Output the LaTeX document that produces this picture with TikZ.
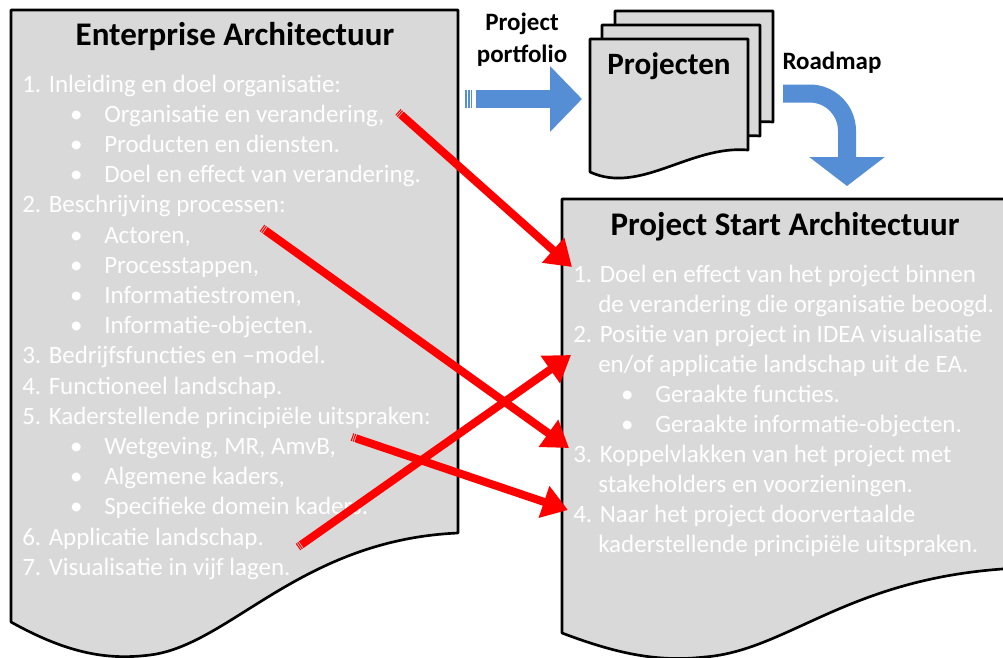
\documentclass[tikz,border=0pt]{standalone}
\usepackage{fontspec}
\setmainfont{Carlito}
\usetikzlibrary{arrows.meta}
\definecolor{docgray}{HTML}{D9D9D9}
\definecolor{flowblue}{HTML}{558ED5}
\newcommand{\itembullet}{\llap{\makebox[10pt]{\textcolor{white}{\char"2022}}\hspace{16pt}}}

\begin{document}
\begin{tikzpicture}[x=0.75pt, y=-0.75pt]
    % Define styles
    \tikzset{
        docshape/.style={draw=black, fill=docgray, line width=2pt, line join=round},
        doctitle/.style={anchor=base, inner sep=0pt, font=\fontsize{24.75pt}{30pt}\selectfont\bfseries},
        listline/.style={anchor=base west, inner sep=0pt, text=white, font=\fontsize{18.75pt}{22pt}\selectfont},
        flowlabel/.style={anchor=base, inner sep=0pt, font=\fontsize{18.75pt}{22pt}\selectfont\bfseries},
        blueflow/.style={draw=flowblue, line width=13.5pt},
        linkarrow/.style={draw=red, line width=6pt, -{Triangle[width=24pt, length=19pt]}, dash pattern=on 0.8pt off 0.7pt on 0.8pt off 0.7pt on 400pt}
    }
    \useasboundingbox (0,0) rectangle (1003,657);
    \clip (0,0) rectangle (1003,657);

    % Enterprise Architectuur document
    \draw[docshape] (11,10) -- (458,10) -- (458,533) .. controls (300,540) and (230,645) .. (150,655) .. controls (110,660) and (70,655) .. (11,622) -- cycle;
    \node[doctitle] (eatitle) at (235,45) {Enterprise Architectuur};

    \node[listline] (ea1) at (22,92) {1. Inleiding en doel organisatie:};
    \node[listline] (ea2) at (104,122.2) {\itembullet Organisatie en verandering,};
    \node[listline] (ea3) at (104,152.4) {\itembullet Producten en diensten.};
    \node[listline] (ea4) at (104,182.6) {\itembullet Doel en effect van verandering.};
    \node[listline] (ea5) at (22,212.8) {2. Beschrijving processen:};
    \node[listline] (ea6) at (104,243) {\itembullet Actoren,};
    \node[listline] (ea7) at (104,273.2) {\itembullet Processtappen,};
    \node[listline] (ea8) at (104,303.4) {\itembullet Informatiestromen,};
    \node[listline] (ea9) at (104,333.6) {\itembullet Informatie-objecten.};
    \node[listline] (ea10) at (22,363.8) {3. Bedrijfsfuncties en –model.};
    \node[listline] (ea11) at (22,394) {4. Functioneel landschap.};
    \node[listline] (ea12) at (22,424.2) {5. Kaderstellende principiële uitspraken:};
    \node[listline] (ea13) at (104,454.4) {\itembullet Wetgeving, MR, AmvB,};
    \node[listline] (ea14) at (104,484.6) {\itembullet Algemene kaders,};
    \node[listline] (ea15) at (104,514.8) {\itembullet Specifieke domein kaders.};
    \node[listline] (ea16) at (22,545) {6. Applicatie landschap.};
    \node[listline] (ea17) at (22,575.2) {7. Visualisatie in vijf lagen.};

    % Projecten stack
    \foreach \dx/\dy in {25/-28, 12/-14, 0/0}
        \draw[docshape, shift={(\dx,\dy)}] (590,39) -- (748,39) -- (748,150) .. controls (690,145) and (640,195) .. (590,172) -- cycle;
    \node[anchor=base, inner sep=0pt, font=\fontsize{23.3pt}{28pt}\selectfont\bfseries] (projecten) at (669,74) {Projecten};

    % Project Start Architectuur document
    \draw[docshape] (562,199) -- (1020,199) -- (1020,568) .. controls (850,575) and (790,650) .. (705,657) .. controls (660,662) and (620,655) .. (562,633) -- cycle;
    \node[doctitle] (psatitle) at (785,235) {Project Start Architectuur};

    \node[listline] (psa1) at (573,282) {1. Doel en effect van het project binnen};
    \node[listline] (psa2) at (598,312.1) {de verandering die organisatie beoogd.};
    \node[listline] (psa3) at (573,342.2) {2. Positie van project in IDEA visualisatie};
    \node[listline] (psa4) at (598,372.3) {en/of applicatie landschap uit de EA.};
    \node[listline] (psa5) at (655,402.4) {\itembullet Geraakte functies.};
    \node[listline] (psa6) at (655,432.5) {\itembullet Geraakte informatie-objecten.};
    \node[listline] (psa7) at (573,462.6) {3. Koppelvlakken van het project met};
    \node[listline] (psa8) at (598,492.7) {stakeholders en voorzieningen.};
    \node[listline] (psa9) at (573,522.8) {4. Naar het project doorvertaalde};
    \node[listline] (psa10) at (598,552.9) {kaderstellende principiële uitspraken.};

    % Blue flow arrows
    \node[flowlabel] (portfolio) at (522,30) {Project};
    \node[flowlabel] (portfolio2) at (522,62) {portfolio};
    \coordinate (portfolioStart) at (465,99);
    \coordinate (portfolioEnd) at (582,99);
    \draw[blueflow, -{Triangle[width=48pt, length=24pt]}, dash pattern=on 1.5pt off 1pt on 1.3pt off 0.75pt on 1pt off 2.5pt on 300pt] (portfolioStart) -- (portfolioEnd);

    \node[flowlabel] (roadmap) at (832,69) {Roadmap};
    \coordinate (roadmapStart) at (783,93.5);
    \coordinate (roadmapEnd) at (847,186);
    \draw[blueflow, -{Triangle[width=55.5pt, length=21.75pt]}, rounded corners=28pt] (roadmapStart) -| (roadmapEnd);

    % Red links EA -> PSA
    \coordinate (fromOrg) at (398,112);
    \coordinate (fromActoren) at (262,228);
    \coordinate (fromWetgeving) at (352,437);
    \coordinate (fromApplicatie) at (298,547);
    \coordinate (toDoel) at (572,267);
    \coordinate (toPositie) at (571,355);
    \coordinate (toKoppel) at (569,448);
    \coordinate (toNaar) at (568,510);
    \draw[linkarrow] (fromOrg) -- (toDoel);
    \draw[linkarrow] (fromActoren) -- (toKoppel);
    \draw[linkarrow] (fromWetgeving) -- (toNaar);
    \draw[linkarrow] (fromApplicatie) -- (toPositie);
\end{tikzpicture}
\end{document}
